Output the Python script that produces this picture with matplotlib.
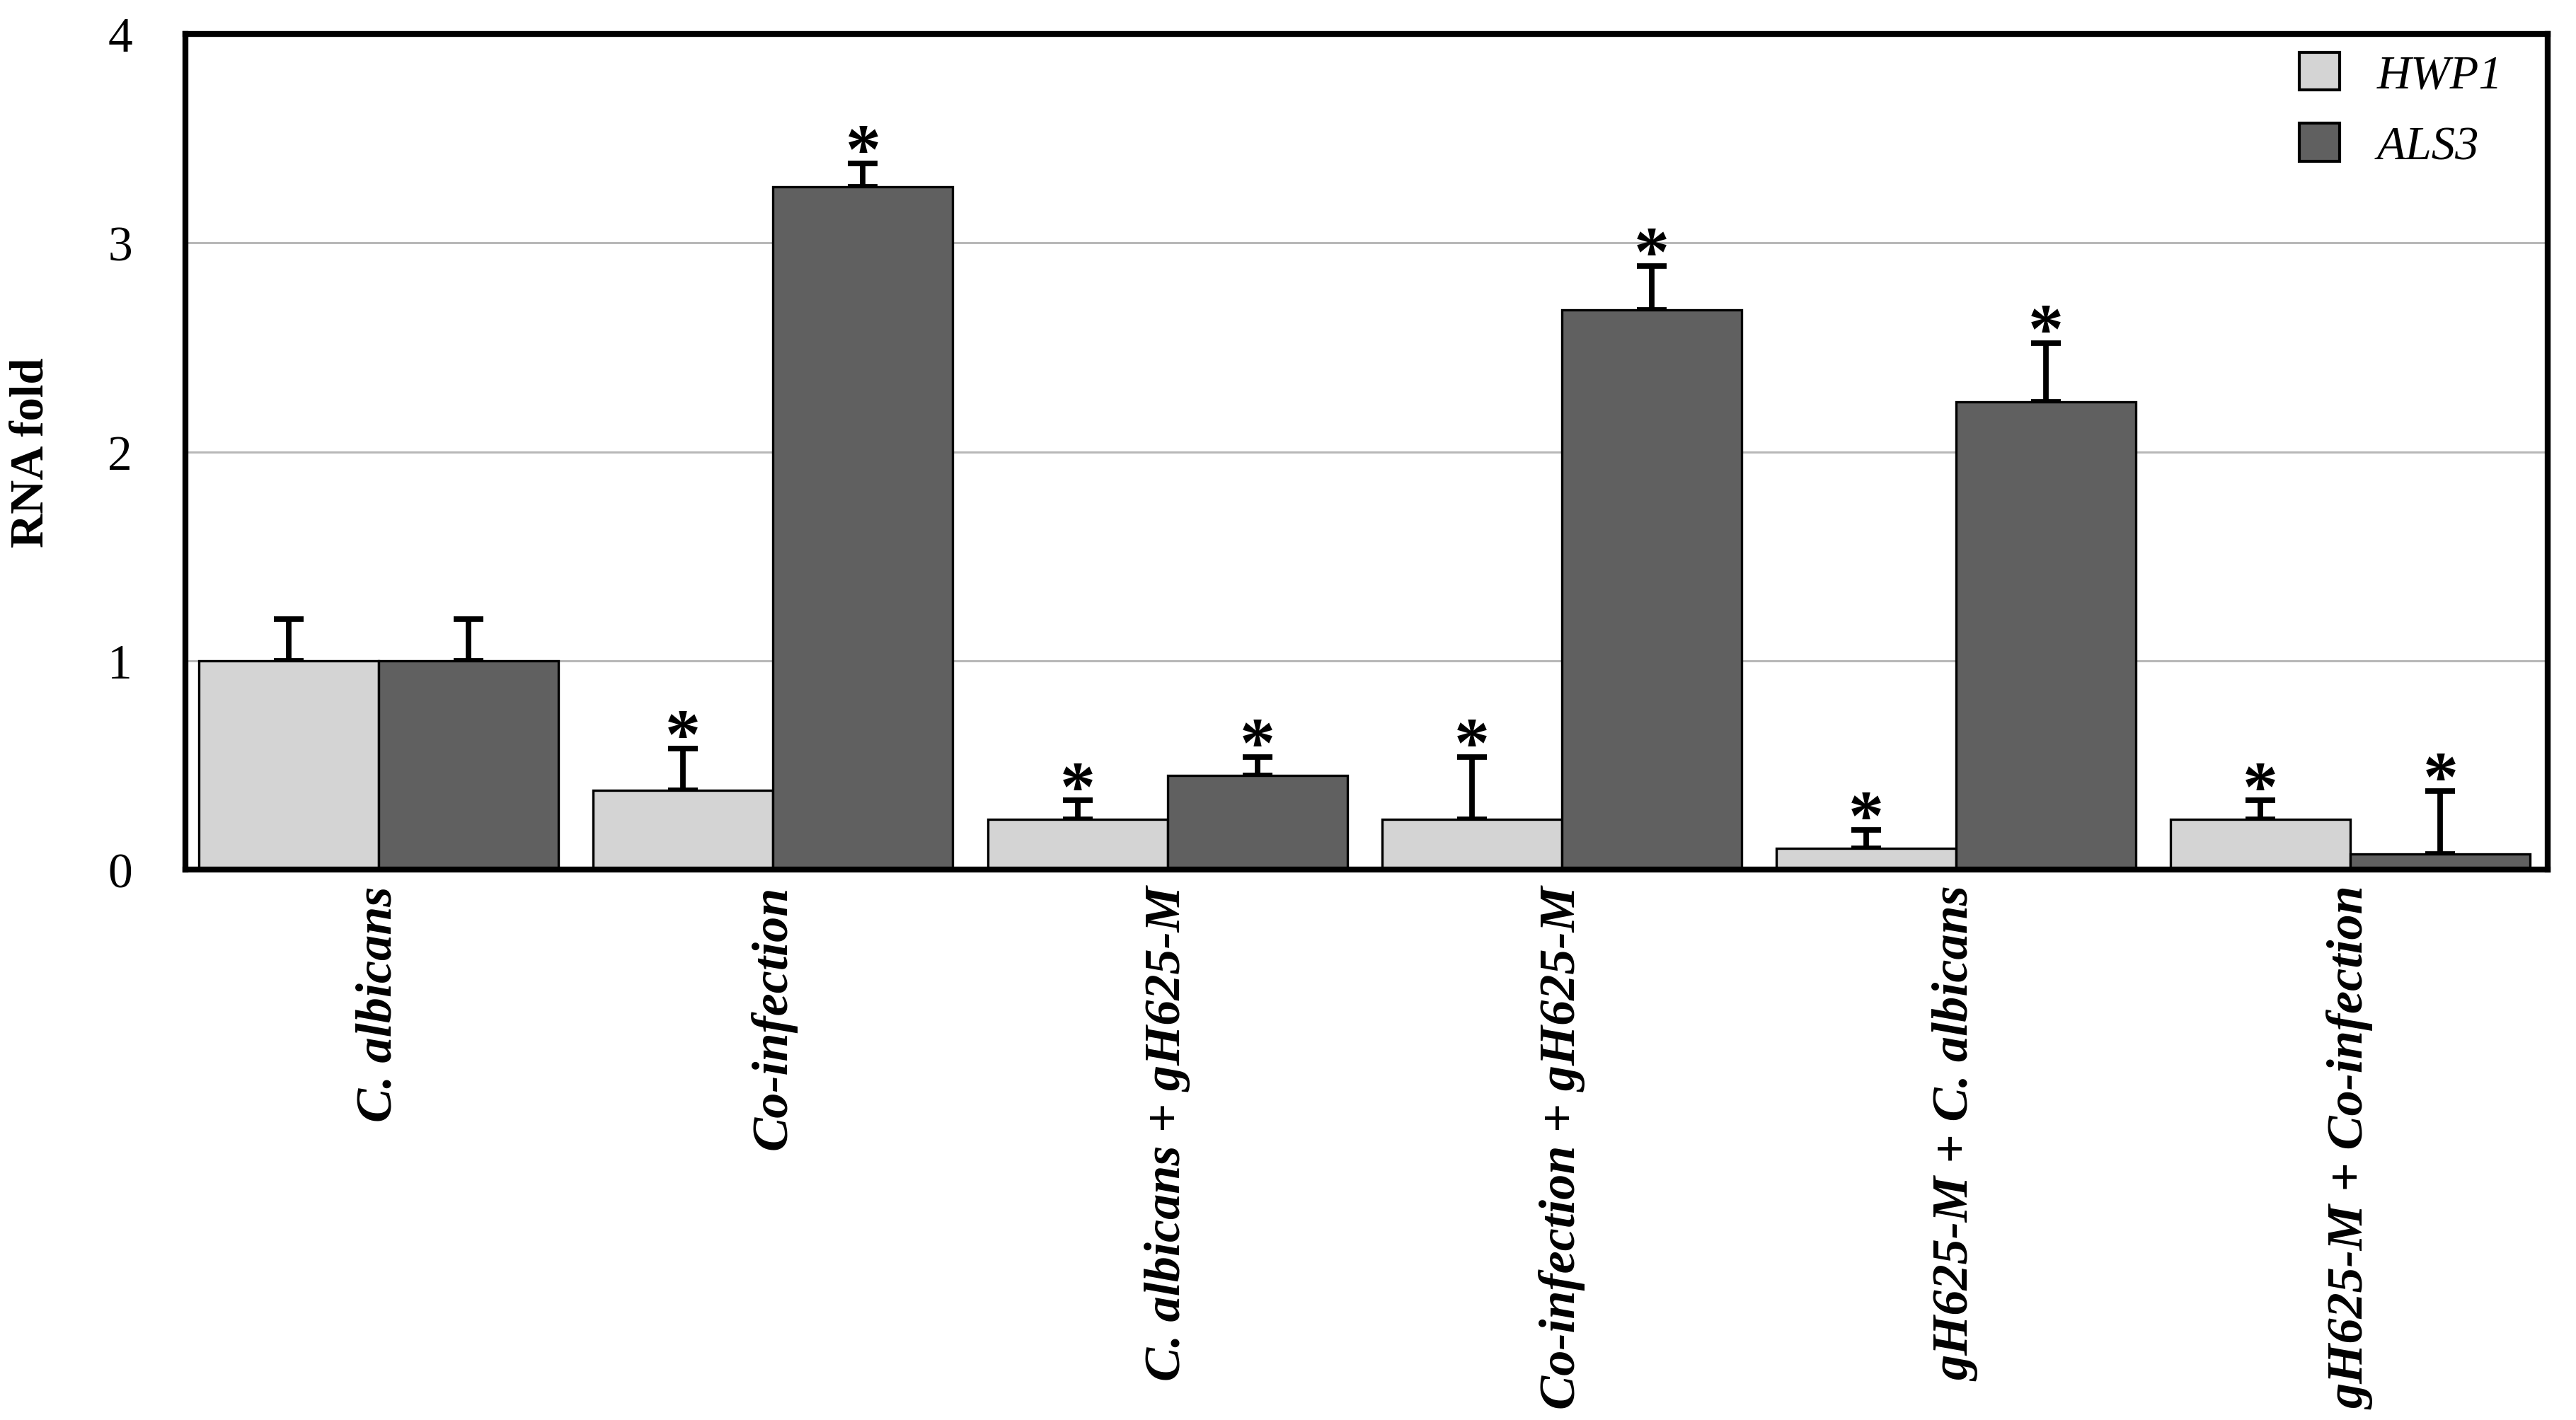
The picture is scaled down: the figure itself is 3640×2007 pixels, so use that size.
import matplotlib
matplotlib.use("Agg")
import matplotlib.pyplot as plt
import numpy as np
from matplotlib.patches import Patch

categories = ["C. albicans", "Co-infection", "C. albicans + gH625-M",
              "Co-infection + gH625-M", "gH625-M + C. albicans", "gH625-M + Co-infection"]
series_names = ["HWP1", "ALS3"]
hwp1_values = [1.0, 0.38, 0.24, 0.24, 0.10, 0.24]
hwp1_errors = [0.20, 0.20, 0.09, 0.30, 0.09, 0.09]
als3_values = [1.0, 3.27, 0.45, 2.68, 2.24, 0.075]
als3_errors = [0.20, 0.11, 0.09, 0.21, 0.28, 0.30]
hwp1_signif = [False, True, True, True, True, True]
als3_signif = [False, True, True, True, True, True]
yticks = [0, 1, 2, 3, 4]

plt.rcParams['font.family'] = ['Liberation Serif', 'DejaVu Serif']

fig = plt.figure(figsize=(18.2, 10.04), dpi=200)
ax = fig.add_axes([0.072, 0.3875, 0.917, 0.588])

x = np.arange(len(categories))
w = 0.456
c_h, c_a = '#d4d4d4', '#606060'

ax.bar(x - w/2, hwp1_values, w, color=c_h, edgecolor='black', linewidth=1.2, zorder=3)
ax.bar(x + w/2, als3_values, w, color=c_a, edgecolor='black', linewidth=1.2, zorder=3)

ekw = dict(fmt='none', ecolor='black', elinewidth=2.8, capsize=7.5, capthick=2.8, zorder=2)
ax.errorbar(x - w/2, hwp1_values, yerr=[np.zeros(len(x)), hwp1_errors], **ekw)
ax.errorbar(x + w/2, als3_values, yerr=[np.zeros(len(x)), als3_errors], **ekw)

for xs, vals, errs, sig in [(x - w/2, hwp1_values, hwp1_errors, hwp1_signif),
                            (x + w/2, als3_values, als3_errors, als3_signif)]:
    for xi, v, e, s in zip(xs, vals, errs, sig):
        if s:
            ax.annotate('*', (xi, v + e), xytext=(0, -4), textcoords='offset points',
                        ha='center', va='baseline', fontsize=36, fontweight='bold', zorder=5)

ax.set_xlim(-0.49, 5.5)
ax.set_ylim(0, 4)
ax.set_yticks(yticks)
ax.set_yticklabels([str(t) for t in yticks], fontsize=25)
ax.set_xticks(x)
ax.set_xticklabels(categories, rotation=90, fontsize=26, fontweight='bold',
                   fontstyle='italic', va='top', ha='center')
ax.tick_params(axis='both', length=0)
ax.tick_params(axis='y', pad=27)
ax.tick_params(axis='x', pad=8)
ax.set_ylabel('RNA fold', fontsize=24, fontweight='bold', labelpad=28)

ax.yaxis.grid(True, color='#b8b8b8', linewidth=1.1, zorder=0)
ax.set_axisbelow(True)
for sp in ax.spines.values():
    sp.set_linewidth(3.0)
    sp.set_zorder(6)

handles = [Patch(facecolor=c_h, edgecolor='black', linewidth=1.5),
           Patch(facecolor=c_a, edgecolor='black', linewidth=1.5)]
leg = ax.legend(handles, series_names, loc='upper right', frameon=False,
                bbox_to_anchor=(0.993, 1.012), prop=dict(size=24, style='italic'),
                handlelength=0.85, handleheight=0.85, handletextpad=0.8,
                labelspacing=0.55, borderaxespad=0.2)

fig.savefig('out.png', dpi=200)
